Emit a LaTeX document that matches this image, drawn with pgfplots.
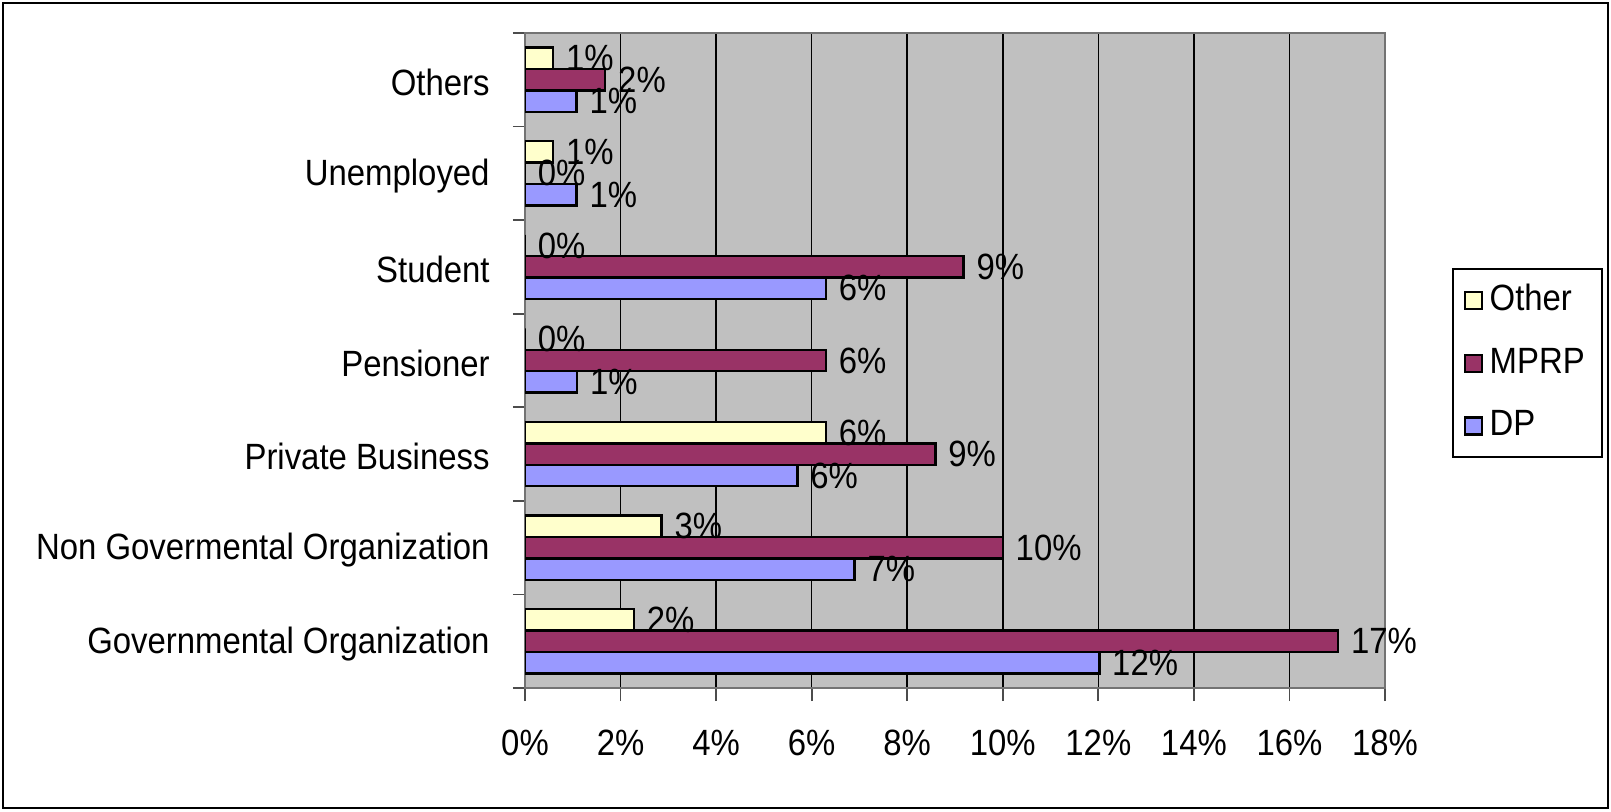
\documentclass[border=0pt]{standalone}
\usepackage{fontspec}
\setmainfont{Liberation Sans}[FakeStretch=0.9]
\usepackage{pgfplots}
\pgfplotsset{compat=1.18}

\definecolor{dpcol}{HTML}{9999FF}
\definecolor{mprpcol}{HTML}{993366}
\definecolor{othcol}{HTML}{FFFFCC}
\definecolor{plotbg}{HTML}{C0C0C0}
\newcommand{\cf}{\fontsize{10.4}{12.5}\selectfont}

\begin{document}
\begin{tikzpicture}
\useasboundingbox (0,0) rectangle (16.11cm,8.11cm);
\draw[black, line width=0.8pt] (0.03cm,0.03cm) rectangle (16.08cm,8.08cm);
\begin{axis}[
    at={(5.25cm,1.23cm)}, anchor=south west,
    width=8.60cm, height=6.55cm, scale only axis,
    xbar, bar width=0.229,
    xmin=0, xmax=18, ymin=-0.5, ymax=6.5,
    axis background/.style={fill=plotbg},
    axis line style={draw=black!55, line width=0.8pt},
    xtick={0,2,...,18},
    xticklabel={\pgfmathprintnumber{\tick}\%},
    /pgf/number format/assume math mode=true,
    ytick={0,...,6},
    yticklabels={Governmental Organization, Non Govermental Organization,
                 Private Business, Pensioner, Student, Unemployed, Others},
    minor ytick={-0.5,0.5,...,6.5},
    xtick pos=bottom, ytick pos=left,
    tick align=outside,
    major tick length=1.3mm, minor tick length=1.2mm,
    major y tick style={draw=none},
    tick style={black!70, line width=0.5pt},
    xmajorgrids, grid style={black, line width=0.45pt},
    tick label style={font=\cf},
    xticklabel style={yshift=-1.7mm},
    yticklabel style={xshift=-1.0mm, yshift=-0.25mm},
    nodes near coords={\pgfmathprintnumber[fixed,precision=0]{\pgfplotspointmeta}\%},
    point meta=x,
    nodes near coords style={font=\cf, black},
    every axis plot/.append style={draw=black, line width=0.7pt},
    legend style={at={(1.078,0.641)}, anchor=north west, font=\cf,
                  draw=black, line width=0.5pt, fill=white,
                  inner xsep=3pt, inner ysep=2.4pt, row sep=1.8mm,
                  cells={anchor=west}},
    legend image code/.code={\draw[#1,/tikz/.cd,draw=black,line width=0.6pt]
        (0cm,-0.085cm) rectangle (0.17cm,0.085cm);},
]
% Other
\addplot[fill=othcol, bar shift=0.229] coordinates {
  (2.28,0) (2.86,1) (6.30,2) (0,3) (0,4) (0.59,5) (0.59,6)
};
\addlegendentry{Other}
% MPRP
\addplot[fill=mprpcol, bar shift=0] coordinates {
  (17.02,0) (10.00,1) (8.59,2) (6.30,3) (9.18,4) (0,5) (1.68,6)
};
\addlegendentry{MPRP}
% DP
\addplot[fill=dpcol, bar shift=-0.229] coordinates {
  (12.02,0) (6.90,1) (5.70,2) (1.09,3) (6.30,4) (1.08,5) (1.08,6)
};
\addlegendentry{DP}
\end{axis}
\end{tikzpicture}
\end{document}
